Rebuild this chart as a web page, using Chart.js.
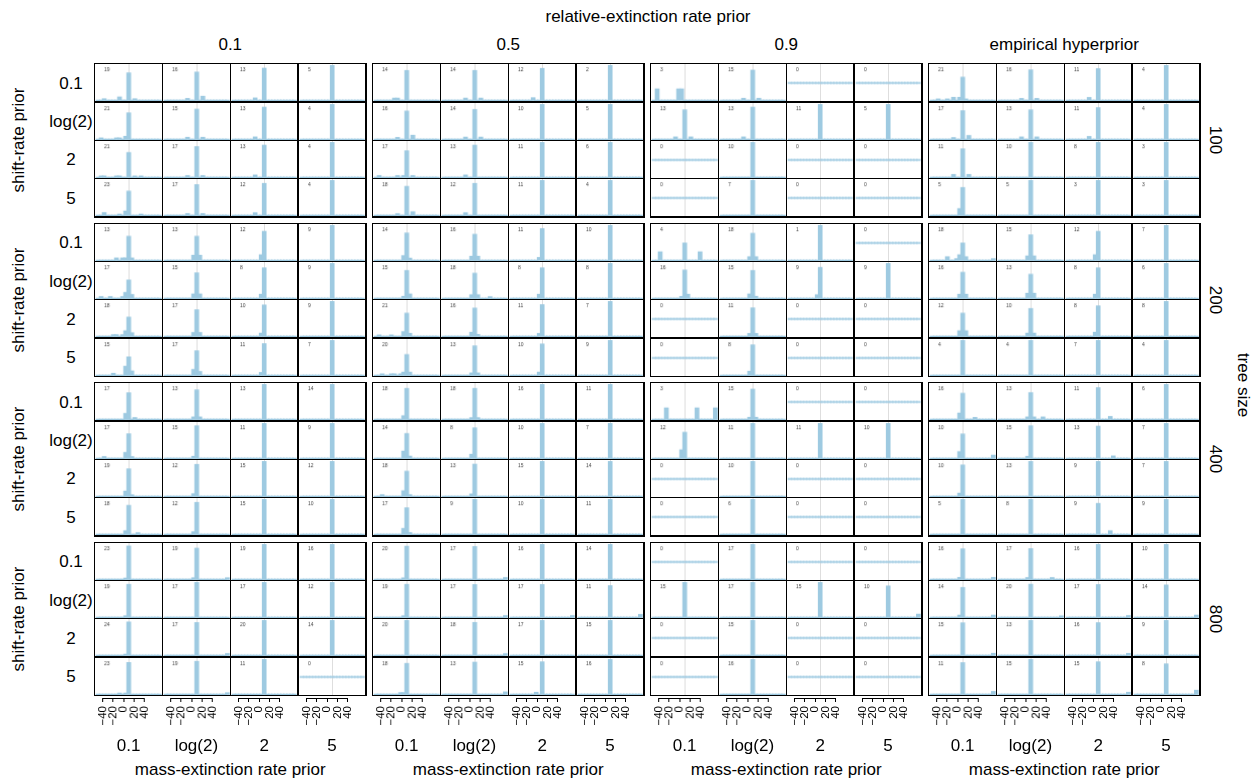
<!DOCTYPE html>
<html>
<head>
<meta charset="utf-8">
<title>Mass-extinction posterior histograms</title>
<script src="https://cdn.jsdelivr.net/npm/chart.js@4.4.1/dist/chart.umd.min.js"></script>
<style>
  html, body { margin: 0; padding: 0; background: #fff; }
  body { width: 1256px; height: 779px; position: relative; overflow: hidden;
         font-family: "Liberation Sans", Arial, Helvetica, sans-serif; color: #000; }
  .lbl { position: absolute; white-space: nowrap; line-height: 1; }
  .block { position: absolute; background: #000; }
  .cell { position: absolute; background: #fff; }
  .axis { position: absolute; }
  canvas { display: block; }
</style>
</head>
<body>
<script>
// ---- labels ----
const relExtLabels = ['0.1', '0.5', '0.9', 'empirical hyperprior'];
const treeSizes = ['100', '200', '400', '800'];
const shiftLabels = ['0.1', 'log(2)', '2', '5'];
const massLabels = ['0.1', 'log(2)', '2', '5'];
const XTICKS = [-40, -20, 0, 20, 40];
const BINS = [-50, -45, -40, -35, -30, -25, -20, -15, -10, -5, 0, 5, 10, 15, 20, 25, 30, 35, 40, 45, 50];

// ---- histogram counts: [bin centre, count] per panel ----
// each block: rows = shift-rate prior, columns = mass-extinction rate prior
const size100_rel01 = [
  [[-40,1],[-15,2],[0,15],[10,1]], [[-15,1],[0,13],[10,2]], [[-15,1],[0,12]], [[0,5]],
  [[-45,1],[-20,1],[-15,1],[-5,2],[0,16]], [[-15,1],[0,13],[10,1]], [[-15,1],[0,12]], [[0,4]],
  [[-45,1],[-40,1],[-20,1],[-15,1],[0,15],[10,1],[20,1]], [[-15,1],[0,15],[10,1]], [[-15,1],[0,12]], [[0,4]],
  [[-40,2],[-15,1],[-5,3],[0,16],[20,1]], [[-15,1],[0,15],[10,1]], [[-15,1],[0,11]], [[0,4]]
];
const size100_rel05 = [
  [[-20,1],[-15,1],[0,12]], [[-15,1],[0,12],[10,1]], [[-15,1],[0,11]], [[0,2]],
  [[-15,1],[0,13],[10,2]], [[-15,1],[0,12],[10,1]], [[0,10]], [[0,5]],
  [[-45,1],[-15,1],[-5,1],[0,13],[10,1]], [[-15,1],[0,12]], [[0,11]], [[0,6]],
  [[-15,1],[0,15],[10,2]], [[-15,1],[0,11]], [[0,11]], [[0,4]]
];
const size100_rel09 = [
  [[-45,1],[-10,1],[-5,1]], [[-15,1],[0,13],[10,1]], [], [],
  [[-15,1],[0,11],[10,1]], [[-15,1],[0,12]], [[0,11]], [[0,5]],
  [], [[0,10]], [], [],
  [], [[0,7]], [], []
];
const size100_relEmp = [
  [[-40,1],[-25,1],[-15,2],[-5,2],[0,14],[5,1]], [[-15,1],[0,14],[10,1]], [[-15,1],[0,10]], [[0,4]],
  [[-15,1],[0,14],[10,2]], [[-15,1],[0,11],[10,1]], [[-15,1],[0,10]], [[0,4]],
  [[-15,1],[0,9],[10,1]], [[0,10]], [[0,8]], [[0,3]],
  [[-5,1],[0,4]], [[0,5]], [[0,3]], [[0,3]]
];
const size200_rel01 = [
  [[-20,1],[-10,1],[-5,1],[0,9],[5,1]], [[-5,2],[0,9],[5,2]], [[-5,2],[0,10]], [[0,9]],
  [[-45,1],[-30,1],[-10,1],[-5,3],[0,9],[5,2]], [[-5,2],[0,11],[5,2]], [[-5,1],[0,7]], [[0,9]],
  [[-25,1],[-20,1],[-10,1],[-5,3],[0,10],[5,2]], [[-5,2],[0,13],[5,2]], [[-5,1],[0,9]], [[0,9]],
  [[-25,1],[-5,4],[0,8],[5,2]], [[-5,3],[0,12],[5,2]], [[-5,1],[0,10]], [[0,7]]
];
const size200_rel05 = [
  [[-5,2],[0,11],[5,1]], [[-5,2],[0,12],[5,2]], [[-5,1],[0,10]], [[0,10]],
  [[-5,1],[0,12],[5,2]], [[-5,2],[0,13],[5,2],[25,1]], [[-5,1],[0,7]], [[0,8]],
  [[-45,1],[-25,1],[-5,3],[0,14],[5,2]], [[-5,2],[0,13],[5,1]], [[-5,1],[0,10]], [[0,7]],
  [[-40,1],[-25,1],[-20,1],[-10,1],[-5,2],[0,12],[5,2]], [[-5,1],[0,11],[5,1]], [[-5,1],[0,9]], [[0,9]]
];
const size200_rel09 = [
  [[-40,1],[0,2],[25,1]], [[-5,2],[0,14],[5,2]], [[0,1]], [],
  [[-5,1],[0,13],[5,2]], [[-5,2],[0,12],[5,1]], [[-5,1],[0,8]], [[0,9]],
  [], [[-5,1],[0,9],[5,1]], [], [],
  [], [[-5,1],[0,7]], [], []
];
const size200_relEmp = [
  [[-25,2],[-10,1],[-5,3],[0,9],[5,2],[50,1]], [[-5,2],[0,11],[5,2]], [[-5,2],[0,10]], [[0,7]],
  [[-5,2],[0,12],[5,2]], [[-5,2],[0,9],[5,2]], [[-5,1],[0,7]], [[0,6]],
  [[-5,2],[0,8],[5,2]], [[-5,1],[0,8],[5,1]], [[-5,1],[0,7]], [[0,8]],
  [[0,4]], [[0,4]], [[0,7]], [[0,4]]
];
const size400_rel01 = [
  [[-5,3],[0,13],[10,1]], [[-5,1],[0,11],[5,1]], [[0,13]], [[0,14]],
  [[-40,1],[-5,3],[0,12],[5,1]], [[-5,1],[0,14]], [[0,11]], [[0,9]],
  [[-5,3],[0,15],[5,1]], [[-5,1],[0,11]], [[0,15]], [[0,12]],
  [[-5,2],[0,15],[15,1]], [[-5,1],[0,11]], [[0,15]], [[0,10]]
];
const size400_rel05 = [
  [[-5,2],[0,16]], [[-5,1],[0,16],[5,1]], [[0,16]], [[0,11]],
  [[-5,3],[0,10],[5,1]], [[-5,1],[0,7]], [[0,10]], [[0,7]],
  [[-40,1],[-5,3],[0,13],[5,1]], [[-5,1],[0,12]], [[0,15]], [[0,14]],
  [[-5,3],[0,13],[5,1]], [[0,9]], [[0,10]], [[0,11]]
];
const size400_rel09 = [
  [[-30,1],[20,1],[50,1]], [[-5,1],[0,13],[5,1]], [], [],
  [[-5,3],[0,9]], [[0,11]], [[0,11]], [[0,10]],
  [], [[0,10]], [], [],
  [], [[0,6]], [], []
];
const size400_relEmp = [
  [[-5,3],[0,12],[20,1]], [[-5,1],[0,10],[5,1],[20,1]], [[0,10],[20,1]], [[0,6]],
  [[-5,2],[0,7],[50,1]], [[-5,1],[0,14]], [[0,12],[25,1]], [[0,7]],
  [[-5,1],[0,9]], [[0,13]], [[0,9]], [[0,7]],
  [[0,5]], [[0,8]], [[0,8],[20,1]], [[0,9]]
];
const size800_rel01 = [
  [[-5,1],[0,22]], [[-5,1],[0,17],[50,1]], [[0,19]], [[0,16]],
  [[-5,1],[0,18]], [[0,17]], [[0,17]], [[0,12]],
  [[-5,1],[0,23]], [[0,16],[50,1]], [[0,20]], [[0,14]],
  [[-15,1],[-5,1],[0,21]], [[0,18],[50,1]], [[0,11]], []
];
const size800_rel05 = [
  [[-5,1],[0,19]], [[0,16],[50,1]], [[0,16]], [[0,14]],
  [[-5,1],[0,18]], [[0,16],[50,1]], [[0,16],[50,1]], [[0,10],[50,1]],
  [[0,20]], [[0,17],[50,1]], [[0,17]], [[0,15]],
  [[-10,1],[-5,1],[0,16]], [[0,12],[50,1]], [[-10,1],[0,14]], [[0,16]]
];
const size800_rel09 = [
  [], [[0,17]], [], [],
  [[0,15]], [[0,17]], [[0,15]], [[0,9],[50,1]],
  [], [[0,15]], [], [],
  [], [[0,16]], [], []
];
const size800_relEmp = [
  [[-5,1],[0,14],[50,1]], [[-5,1],[0,15],[35,1]], [[0,16]], [[0,10]],
  [[-5,1],[0,12],[50,1]], [[0,19],[50,1]], [[0,16],[50,1]], [[0,13],[50,1]],
  [[0,14],[50,1]], [[0,13]], [[0,15],[50,1]], [[0,9]],
  [[0,10],[50,1]], [[0,15]], [[0,14],[50,1]], [[0,7],[50,1]]
];

const blocks = [
  [size100_rel01, size100_rel05, size100_rel09, size100_relEmp],
  [size200_rel01, size200_rel05, size200_rel09, size200_relEmp],
  [size400_rel01, size400_rel05, size400_rel09, size400_relEmp],
  [size800_rel01, size800_rel05, size800_rel09, size800_relEmp]
];

// ---- layout and style ----
const FONT = '"Liberation Sans", Arial, Helvetica, sans-serif';
const BAR = '#9ecae1';
const ZERO_LINE = '#dedede';
const BX0 = 94, BDX = 278, BW = 272.5;
const BY0 = 63, BDY = 159.5, BH = 154.5;
const LINE = 1.4;
const CW = (BW - 5 * LINE) / 4, CH = (BH - 5 * LINE) / 4;
const AXIS_GAP = 2, AXIS_H = 38;
const LABEL_SIZE = 17;

Chart.defaults.font.family = FONT;

function addLabel(text, x, y, size, rot) {
  const d = document.createElement('div');
  d.className = 'lbl';
  d.textContent = text;
  d.style.left = x + 'px';
  d.style.top = y + 'px';
  d.style.fontSize = size + 'px';
  d.style.transform = 'translate(-50%,-50%)' + (rot ? ' rotate(' + rot + 'deg)' : '');
  document.body.appendChild(d);
}

// count written in the panel's top-left corner
const countLabel = {
  id: 'countLabel',
  afterDatasetsDraw(chart, args, opts) {
    const { ctx, chartArea } = chart;
    ctx.save();
    ctx.font = '5px ' + FONT;
    ctx.fillStyle = '#444';
    ctx.textBaseline = 'alphabetic';
    ctx.fillText(opts.text, chartArea.left + 9, chartArea.top + 7);
    ctx.restore();
  }
};

// axis line spanning the first to the last tick
const axisLine = {
  id: 'axisLine',
  afterDraw(chart) {
    const s = chart.scales.x, ctx = chart.ctx;
    const y = Math.round(chart.chartArea.bottom) + 0.5;
    ctx.save();
    ctx.strokeStyle = '#000';
    ctx.lineWidth = 1;
    ctx.beginPath();
    ctx.moveTo(s.getPixelForValue(XTICKS[0]), y);
    ctx.lineTo(s.getPixelForValue(XTICKS[XTICKS.length - 1]), y);
    ctx.stroke();
    ctx.restore();
  }
};

function panelChart(canvas, counts) {
  const n = counts.reduce((a, p) => a + p[1], 0);
  const byBin = new Map(counts.map(p => [p[0], p[1]]));
  const data = BINS.map(b => ({ x: b, y: n ? (byBin.get(b) || 0) / n : 0 }));
  return new Chart(canvas, {
    type: 'bar',
    data: { datasets: [{ data, backgroundColor: BAR, borderWidth: 0, barThickness: 4, minBarLength: 1 }] },
    options: {
      animation: false, responsive: true, maintainAspectRatio: false, events: [],
      layout: { padding: 0 },
      plugins: { legend: { display: false }, tooltip: { enabled: false }, countLabel: { text: String(n) } },
      scales: {
        x: {
          type: 'linear', min: -55, max: 55, offset: false,
          afterBuildTicks: s => { s.ticks = XTICKS.map(v => ({ value: v })); },
          ticks: { display: false },
          grid: { offset: false, drawTicks: false, lineWidth: 1,
                  color: c => (c.tick && c.tick.value === 0) ? ZERO_LINE : 'rgba(0,0,0,0)' },
          border: { display: false }
        },
        y: { display: false, min: n ? -0.04 : -1, max: n ? 1.04 : 1 }
      }
    },
    plugins: [countLabel]
  });
}

function axisChart(canvas) {
  return new Chart(canvas, {
    type: 'scatter',
    data: { datasets: [] },
    options: {
      animation: false, responsive: true, maintainAspectRatio: false, events: [],
      layout: { padding: 0 },
      plugins: { legend: { display: false }, tooltip: { enabled: false } },
      scales: {
        x: {
          type: 'linear', position: 'bottom', min: -55, max: 55,
          afterBuildTicks: s => { s.ticks = XTICKS.map(v => ({ value: v })); },
          afterFit: s => { s.height = AXIS_H; },
          ticks: { minRotation: 90, maxRotation: 90, autoSkip: false, padding: 4, color: '#000',
                   font: { family: FONT, size: 11.5 },
                   callback: v => (v < 0 ? '\u2212' + Math.abs(v) : String(v)) },
          grid: { drawOnChartArea: false, drawTicks: true, tickLength: 4, tickColor: '#000', tickWidth: 1 },
          border: { display: false }
        },
        y: { display: false, min: 0, max: 1 }
      }
    },
    plugins: [axisLine]
  });
}

// ---- build grid of panels ----
for (let r = 0; r < 4; r++) {
  for (let c = 0; c < 4; c++) {
    const bx = BX0 + c * BDX, by = BY0 + r * BDY;
    const blk = document.createElement('div');
    blk.className = 'block';
    Object.assign(blk.style, { left: bx + 'px', top: by + 'px', width: BW + 'px', height: BH + 'px' });
    document.body.appendChild(blk);
    for (let i = 0; i < 4; i++) {
      for (let j = 0; j < 4; j++) {
        const cell = document.createElement('div');
        cell.className = 'cell';
        Object.assign(cell.style, {
          left: (LINE + j * (CW + LINE)) + 'px', top: (LINE + i * (CH + LINE)) + 'px',
          width: CW + 'px', height: CH + 'px'
        });
        const cv = document.createElement('canvas');
        cell.appendChild(cv);
        blk.appendChild(cell);
        panelChart(cv, blocks[r][c][i * 4 + j]);
      }
    }
  }
}

// x axes under the bottom row
for (let c = 0; c < 4; c++) {
  for (let j = 0; j < 4; j++) {
    const ax = document.createElement('div');
    ax.className = 'axis';
    Object.assign(ax.style, {
      left: (BX0 + c * BDX + LINE + j * (CW + LINE)) + 'px',
      top: (BY0 + 3 * BDY + BH) + 'px',
      width: CW + 'px', height: (AXIS_GAP + AXIS_H) + 'px'
    });
    const cv = document.createElement('canvas');
    ax.appendChild(cv);
    document.body.appendChild(ax);
    axisChart(cv);
  }
}

// ---- text ----
addLabel('relative-extinction rate prior', 648, 16, LABEL_SIZE);
for (let c = 0; c < 4; c++) {
  const cx = BX0 + c * BDX + BW / 2;
  addLabel(relExtLabels[c], cx, 44, LABEL_SIZE);
  addLabel('mass-extinction rate prior', cx, 769, LABEL_SIZE);
  for (let j = 0; j < 4; j++) {
    addLabel(massLabels[j], BX0 + c * BDX + LINE + j * (CW + LINE) + CW / 2, 745, LABEL_SIZE);
  }
}
for (let r = 0; r < 4; r++) {
  const by = BY0 + r * BDY;
  addLabel('shift-rate prior', 18, by + BH / 2, LABEL_SIZE, -90);
  addLabel(treeSizes[r], 1215, by + BH / 2, LABEL_SIZE, 90);
  for (let i = 0; i < 4; i++) {
    addLabel(shiftLabels[i], 71, by + LINE + i * (CH + LINE) + CH / 2, LABEL_SIZE);
  }
}
addLabel('tree size', 1243, 385, LABEL_SIZE, 90);
</script>
</body>
</html>
